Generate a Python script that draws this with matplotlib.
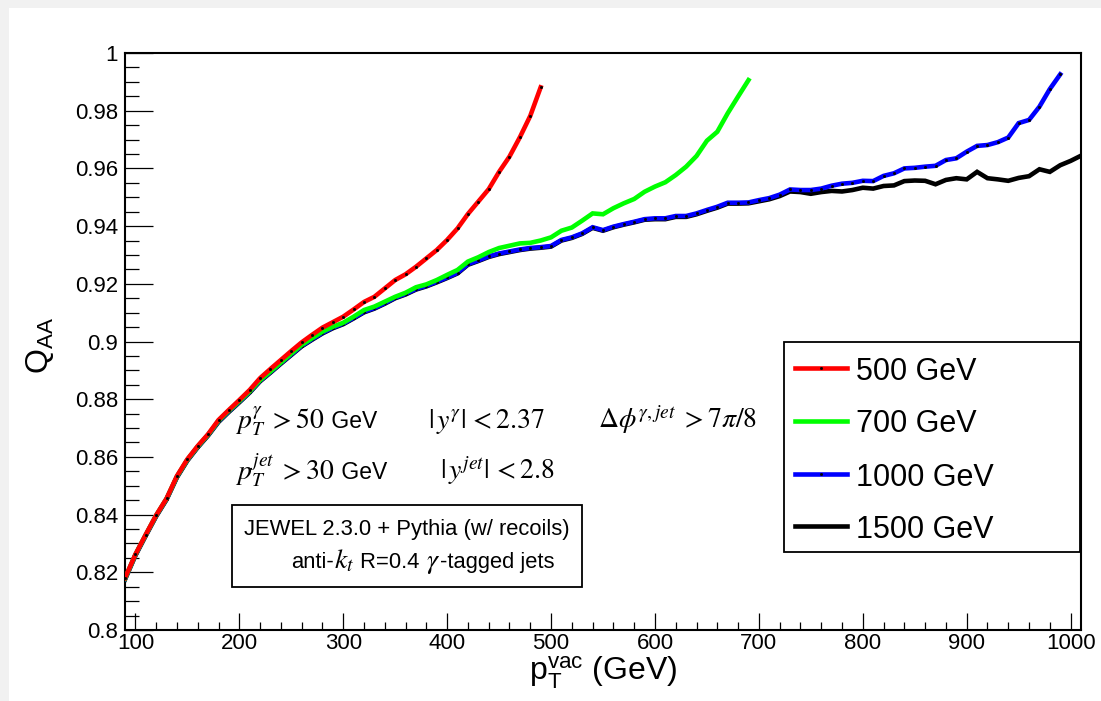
import numpy as np
import matplotlib
matplotlib.use('Agg')
import matplotlib.pyplot as plt
from matplotlib.patches import Rectangle
from matplotlib.lines import Line2D
from matplotlib.ticker import MultipleLocator, FixedLocator, FixedFormatter

plt.rcParams['font.family'] = ['Liberation Sans', 'DejaVu Sans']
plt.rcParams['mathtext.fontset'] = 'custom'
plt.rcParams['mathtext.rm'] = 'Liberation Sans'
plt.rcParams['mathtext.it'] = 'Liberation Sans:italic'
plt.rcParams['mathtext.bf'] = 'Liberation Sans:bold'

# ---------------- data ----------------
pt_vac = list(range(90, 1011, 10))

q_500 = [0.8180, 0.8262, 0.8331, 0.8398, 0.8456, 0.8534, 0.8592, 0.8638, 0.8679, 0.8728,
         0.8763, 0.8797, 0.8832, 0.8873, 0.8905, 0.8936, 0.8967, 0.8997, 0.9023, 0.9048,
         0.9067, 0.9086, 0.9111, 0.9137, 0.9155, 0.9184, 0.9213, 0.9233, 0.9259, 0.9288,
         0.9317, 0.9352, 0.9392, 0.9442, 0.9485, 0.9528, 0.9588, 0.9641, 0.9708, 0.9782,
         0.9881]

q_700 = [0.8178, 0.8261, 0.8330, 0.8397, 0.8455, 0.8532, 0.8590, 0.8636, 0.8677, 0.8725,
         0.8760, 0.8793, 0.8827, 0.8866, 0.8896, 0.8927, 0.8958, 0.8988, 0.9011, 0.9034,
         0.9051, 0.9065, 0.9086, 0.9109, 0.9121, 0.9138, 0.9155, 0.9169, 0.9188, 0.9198,
         0.9213, 0.9231, 0.9248, 0.9277, 0.9292, 0.9310, 0.9324, 0.9332, 0.9340, 0.9342,
         0.9350, 0.9361, 0.9384, 0.9395, 0.9419, 0.9444, 0.9441, 0.9462, 0.9479, 0.9494,
         0.9519, 0.9537, 0.9552, 0.9577, 0.9606, 0.9643, 0.9696, 0.9727, 0.9791, 0.9849,
         0.9906]

q_1000 = [0.8177, 0.8260, 0.8329, 0.8396, 0.8454, 0.8531, 0.8589, 0.8635, 0.8676, 0.8723,
          0.8758, 0.8791, 0.8825, 0.8864, 0.8894, 0.8925, 0.8955, 0.8985, 0.9008, 0.9030,
          0.9048, 0.9062, 0.9082, 0.9103, 0.9116, 0.9133, 0.9152, 0.9165, 0.9182, 0.9193,
          0.9207, 0.9222, 0.9238, 0.9268, 0.9281, 0.9295, 0.9305, 0.9312, 0.9319, 0.9324,
          0.9327, 0.9331, 0.9352, 0.9361, 0.9375, 0.9396, 0.9386, 0.9398, 0.9407, 0.9415,
          0.9424, 0.9427, 0.9427, 0.9435, 0.9435, 0.9444, 0.9456, 0.9467, 0.9481, 0.9481,
          0.9482, 0.9490, 0.9497, 0.9509, 0.9527, 0.9525, 0.9525, 0.9530, 0.9540, 0.9547,
          0.9550, 0.9557, 0.9556, 0.9574, 0.9583, 0.9600, 0.9602, 0.9606, 0.9609, 0.9629,
          0.9635, 0.9658, 0.9678, 0.9681, 0.9691, 0.9707, 0.9757, 0.9768, 0.9814, 0.9875,
          0.9926]

q_1500 = [0.8175, 0.8258, 0.8327, 0.8394, 0.8452, 0.8529, 0.8587, 0.8633, 0.8674, 0.8721,
          0.8756, 0.8789, 0.8823, 0.8862, 0.8892, 0.8923, 0.8953, 0.8983, 0.9006, 0.9028,
          0.9046, 0.9060, 0.9080, 0.9101, 0.9114, 0.9131, 0.9150, 0.9163, 0.9180, 0.9191,
          0.9205, 0.9220, 0.9236, 0.9266, 0.9279, 0.9293, 0.9303, 0.9310, 0.9317, 0.9322,
          0.9325, 0.9329, 0.9350, 0.9359, 0.9373, 0.9394, 0.9384, 0.9396, 0.9405, 0.9413,
          0.9422, 0.9424, 0.9424, 0.9432, 0.9432, 0.9441, 0.9453, 0.9464, 0.9478, 0.9478,
          0.9479, 0.9486, 0.9493, 0.9504, 0.9520, 0.9518, 0.9512, 0.9518, 0.9522, 0.9520,
          0.9525, 0.9533, 0.9530, 0.9539, 0.9541, 0.9556, 0.9558, 0.9557, 0.9545, 0.9560,
          0.9566, 0.9562, 0.9588, 0.9566, 0.9562, 0.9557, 0.9567, 0.9573, 0.9597, 0.9588,
          0.9611, 0.9626, 0.9644]

series_labels = ['500 GeV', '700 GeV', '1000 GeV', '1500 GeV']
series_colors = ['#ff0000', '#00ff00', '#0000ff', '#000000']
series_values = [q_500, q_700, q_1000, q_1500]

x_ticks = [100, 200, 300, 400, 500, 600, 700, 800, 900, 1000]
y_ticks = [0.8, 0.82, 0.84, 0.86, 0.88, 0.9, 0.92, 0.94, 0.96, 0.98, 1.0]
y_tick_labels = ['0.8', '0.82', '0.84', '0.86', '0.88', '0.9', '0.92', '0.94', '0.96', '0.98', '1']

# ---------------- figure ----------------
W, H = 1101, 701
fig = plt.figure(figsize=(W / 100, H / 100), dpi=100)
fig.patch.set_facecolor('#f1f1f1')


def fx(px):
    return px / W


def fy(py):
    return 1 - py / H


bg = Rectangle((fx(9), 0), 1, fy(8), transform=fig.transFigure,
               facecolor='white', edgecolor='none', zorder=-10)
fig.patches.append(bg)

L, R, T, B = 125, 1081, 53, 630
ax = fig.add_axes([fx(L), fy(B), fx(R) - fx(L), fy(T) - fy(B)])
ax.set_facecolor('white')
ax.set_zorder(1)

LW = 3.3
zorders = [6, 5, 4, 3]
marks = [True, False, True, False]
for lab, col, vals, z, mk in zip(series_labels, series_colors, series_values, zorders, marks):
    xs = pt_vac[:len(vals)]
    ax.plot(xs, vals, color=col, lw=LW, solid_joinstyle='miter', zorder=z, clip_on=True)
    if mk:
        ax.plot(xs, vals, ls='none', marker='s', ms=1.0, color='black', zorder=z + 0.5)

ax.set_xlim(90, 1010)
ax.set_ylim(0.8, 1.0)

ax.xaxis.set_major_locator(FixedLocator(x_ticks))
ax.xaxis.set_minor_locator(MultipleLocator(20))
ax.yaxis.set_major_locator(FixedLocator(y_ticks))
ax.yaxis.set_major_formatter(FixedFormatter(y_tick_labels))
ax.yaxis.set_minor_locator(MultipleLocator(0.005))

ax.tick_params(axis='x', which='major', direction='in', length=12, width=0.9,
               labelsize=16, pad=2, top=False)
ax.tick_params(axis='x', which='minor', direction='in', length=6, width=0.9, top=False)
ax.tick_params(axis='y', which='major', direction='in', length=20, width=0.9,
               labelsize=16, pad=5, right=False)
ax.tick_params(axis='y', which='minor', direction='in', length=10, width=0.9, right=False)
for s in ax.spines.values():
    s.set_linewidth(1.5)

fig.text(fx(603), fy(673), r'$\mathrm{p}_{\mathrm{T}}^{\mathrm{vac}}$ (GeV)', fontsize=23,
         ha='center', va='center')
fig.text(fx(40), fy(345), r'Q$_{\mathrm{AA}}$', fontsize=23, rotation=90,
         ha='center', va='center')

# ---------------- annotations (runs of mixed fonts) ----------------
renderer = fig.canvas.get_renderer()


def draw_runs(x_px, y_px, runs, ha='left', zorder=8):
    """runs: list of (string, fontsize, mathfamily or None); placed left to right on a baseline."""
    texts = []
    widths = []
    for s, fs, mf in runs:
        kw = dict(fontsize=fs, ha='left', va='baseline', zorder=zorder)
        if mf is not None:
            kw['math_fontfamily'] = mf
        t = fig.text(0, fy(y_px), s, **kw)
        bb = t.get_window_extent(renderer)
        texts.append(t)
        widths.append(bb.width)
    total = sum(widths)
    x0 = x_px - total / 2 if ha == 'center' else x_px
    for t, w in zip(texts, widths):
        t.set_x(fx(x0))
        x0 += w


mfs = 20
tfs = 16.5
bfs = 15.8
draw_runs(235, 428, [(r'$p_{T}^{\gamma}\; > 50$', mfs, 'stix'), (' GeV', tfs, None)])
draw_runs(428, 428, [(r'$|\,y^{\gamma}|\, < 2.37$', mfs, 'stix')])
draw_runs(598, 428, [(r'$\Delta\phi^{\gamma,jet}\; > 7\pi/8$', mfs, 'stix')])
draw_runs(235, 479, [(r'$p_{T}^{jet}\; > 30$', mfs, 'stix'), (' GeV', tfs, None)])
draw_runs(440, 479, [(r'$|\,y^{jet}|\, < 2.8$', mfs, 'stix')])

fig.patches.append(Rectangle((fx(232), fy(587)), fx(582) - fx(232), fy(505) - fy(587),
                             transform=fig.transFigure, facecolor='white', edgecolor='black',
                             lw=1.3, zorder=7))
draw_runs(407, 535, [('JEWEL 2.3.0 + Pythia (w/ recoils)', bfs, None)], ha='center')
draw_runs(423, 568, [('anti-', bfs, None), (r'$k_{t}$', mfs, 'stix'), (' R=0.4 ', bfs, None),
                     (r'$\gamma$', mfs, 'stix'), ('-tagged jets', bfs, None)], ha='center')

# ---------------- legend ----------------
fig.patches.append(Rectangle((fx(784), fy(552)), fx(1080) - fx(784), fy(342) - fy(552),
                             transform=fig.transFigure, facecolor='white', edgecolor='black',
                             lw=1.3, zorder=7))
leg_y = [368, 421, 474, 526]
for lab, col, yy, mk in zip(series_labels, series_colors, leg_y, marks):
    fig.lines.append(Line2D([fx(795), fx(847)], [fy(yy), fy(yy)], color=col, lw=LW,
                            transform=fig.transFigure, zorder=8))
    if mk:
        fig.lines.append(Line2D([fx(821)], [fy(yy)], ls='none', marker='s', ms=1.0,
                                color='black', transform=fig.transFigure, zorder=9))
    fig.text(fx(856), fy(yy), lab, fontsize=22, ha='left', va='center_baseline', zorder=9)

fig.savefig('out.png', dpi=100, facecolor=fig.get_facecolor())
